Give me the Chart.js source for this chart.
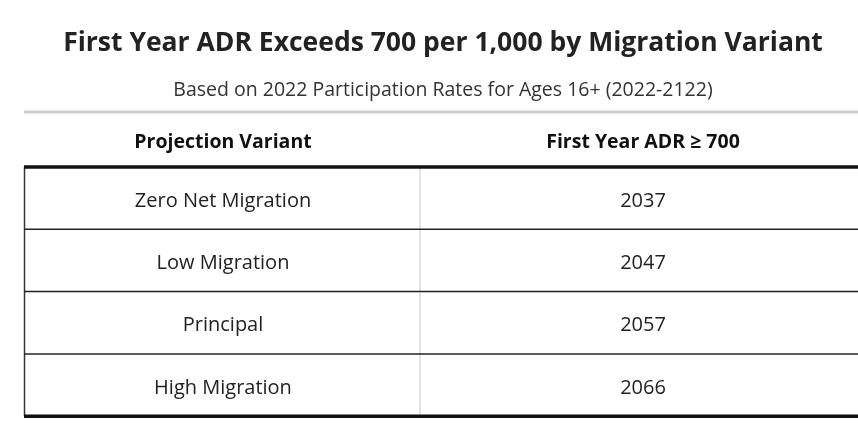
<!DOCTYPE html>
<html>
<head>
<meta charset="utf-8">
<script src="https://cdn.jsdelivr.net/npm/chart.js@4"></script>
<style>
  html, body { margin: 0; padding: 0; background: #fff; }
  #wrap { width: 858px; height: 426px; }
</style>
</head>
<body>
<div id="wrap"><canvas id="c"></canvas></div>
<script>
'use strict';
const TITLE = 'First Year ADR Exceeds 700 per 1,000 by Migration Variant';
const SUBTITLE = 'Based on 2022 Participation Rates for Ages 16+ (2022-2122)';
const HEADERS = ['Projection Variant', 'First Year ADR \u2265 700'];
const VARIANTS = ['Zero Net Migration', 'Low Migration', 'Principal', 'High Migration'];
const YEARS = [2037, 2047, 2057, 2066];

const FONT = '"Open Sans", "Noto Sans", sans-serif';

const tablePlugin = {
  id: 'table',
  afterDraw(chart) {
    const { ctx, scales: { x, y } } = chart;
    const px = v => x.getPixelForValue(v);
    const py = v => y.getPixelForValue(v);
    const line = (x1, y1, x2, y2, color, w) => {
      ctx.beginPath();
      ctx.strokeStyle = color;
      ctx.lineWidth = w;
      ctx.moveTo(px(x1), py(y1));
      ctx.lineTo(px(x2), py(y2));
      ctx.stroke();
    };
    ctx.save();
    ctx.textAlign = 'center';
    ctx.textBaseline = 'middle';
    ctx.fillStyle = '#222';
    ctx.font = `bold 26.5px ${FONT}`;
    ctx.fillText(TITLE, px(443), py(43));
    ctx.fillStyle = '#333';
    ctx.font = `19.5px ${FONT}`;
    ctx.fillText(SUBTITLE, px(443), py(90));

    line(24, 112, 858, 112, '#d0d0d0', 3);
    ctx.fillStyle = '#111';
    ctx.font = `bold 19.5px ${FONT}`;
    ctx.fillText(HEADERS[0], px(223), py(142));
    ctx.fillText(HEADERS[1], px(643), py(142));

    const top = 167, rowH = 62.3;
    const bottom = top + rowH * VARIANTS.length;
    line(420, top, 420, bottom, '#d8d8d8', 1.5);
    line(24.5, top, 24.5, bottom, '#333', 1.5);
    ctx.font = `20px ${FONT}`;
    ctx.fillStyle = '#222';
    VARIANTS.forEach((v, i) => {
      const cy = top + rowH * i + rowH / 2 + 3;
      ctx.fillText(v, px(223), py(cy));
      ctx.fillText(String(YEARS[i]), px(643), py(cy));
      if (i > 0) line(24, top + rowH * i, 858, top + rowH * i, '#222', 1.5);
    });
    line(24, top, 858, top, '#111', 3.5);
    line(24, bottom, 858, bottom, '#111', 3.5);
    ctx.restore();
  }
};

new Chart(document.getElementById('c'), {
  type: 'scatter',
  data: { datasets: [{ data: [] }] },
  options: {
    responsive: true, maintainAspectRatio: false, animation: false,
    layout: { padding: 0 },
    plugins: { legend: { display: false }, tooltip: { enabled: false } },
    scales: {
      x: { type: 'linear', min: 0, max: 858, display: false },
      y: { type: 'linear', min: 0, max: 426, reverse: true, display: false }
    }
  },
  plugins: [tablePlugin]
});
</script>
</body>
</html>
